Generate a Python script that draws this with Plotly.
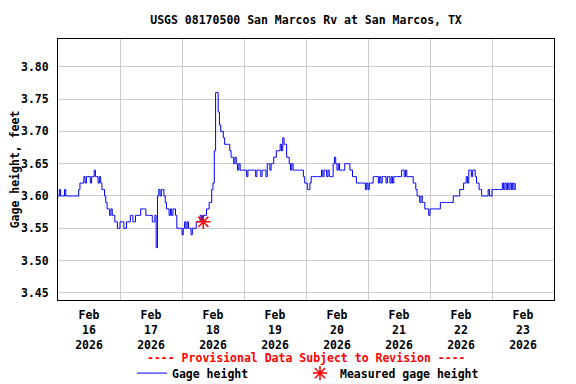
import pandas as pd
import plotly.graph_objects as go

# Gage height, feet, 30-minute readings, one list per day (Feb 16 .. Feb 23)
feb16 = [3.60, 3.61, 3.60, 3.60, 3.60, 3.61, 3.60, 3.60,
         3.60, 3.60, 3.60, 3.60, 3.60, 3.60, 3.60, 3.60,
         3.61, 3.62, 3.62, 3.62, 3.63, 3.62, 3.63, 3.63,
         3.63, 3.62, 3.63, 3.63, 3.64, 3.63, 3.63, 3.62,
         3.63, 3.62, 3.61, 3.61, 3.60, 3.59, 3.58, 3.58,
         3.57, 3.58, 3.57, 3.57, 3.56, 3.56, 3.55, 3.55]
feb17 = [3.56, 3.56, 3.56, 3.55, 3.55, 3.56, 3.56, 3.56,
         3.57, 3.57, 3.56, 3.56, 3.57, 3.57, 3.57, 3.57,
         3.58, 3.58, 3.58, 3.58, 3.57, 3.57, 3.57, 3.57,
         3.57, 3.56, 3.56, 3.57, 3.52, 3.60, 3.61, 3.60,
         3.61, 3.61, 3.60, 3.59, 3.58, 3.58, 3.57, 3.58,
         3.57, 3.58, 3.58, 3.57, 3.55, 3.55, 3.55, 3.55]
feb18 = [3.54, 3.55, 3.56, 3.55, 3.56, 3.55, 3.55, 3.54,
         3.55, 3.55, 3.55, 3.56, 3.56, 3.56, 3.57, 3.56,
         3.57, 3.57, 3.57, 3.58, 3.58, 3.59, 3.59, 3.61,
         3.62, 3.67, 3.76, 3.76, 3.73, 3.71, 3.70, 3.70,
         3.69, 3.68, 3.68, 3.68, 3.68, 3.67, 3.66, 3.66,
         3.65, 3.66, 3.65, 3.64, 3.65, 3.64, 3.64, 3.64]
feb19 = [3.64, 3.64, 3.63, 3.64, 3.64, 3.64, 3.64, 3.64,
         3.64, 3.63, 3.64, 3.64, 3.64, 3.63, 3.64, 3.64,
         3.64, 3.63, 3.65, 3.65, 3.64, 3.65, 3.65, 3.66,
         3.66, 3.67, 3.67, 3.67, 3.68, 3.67, 3.69, 3.68,
         3.68, 3.66, 3.66, 3.65, 3.64, 3.65, 3.64, 3.64,
         3.64, 3.64, 3.64, 3.64, 3.64, 3.64, 3.63, 3.62]
feb20 = [3.62, 3.61, 3.61, 3.62, 3.63, 3.63, 3.63, 3.63,
         3.63, 3.63, 3.63, 3.63, 3.64, 3.63, 3.64, 3.64,
         3.63, 3.64, 3.63, 3.63, 3.63, 3.65, 3.66, 3.65,
         3.64, 3.65, 3.64, 3.64, 3.64, 3.64, 3.65, 3.65,
         3.65, 3.65, 3.64, 3.64, 3.63, 3.63, 3.63, 3.62,
         3.62, 3.62, 3.62, 3.62, 3.62, 3.62, 3.61, 3.62]
feb21 = [3.61, 3.62, 3.62, 3.62, 3.63, 3.63, 3.63, 3.63,
         3.62, 3.63, 3.62, 3.63, 3.63, 3.63, 3.62, 3.63,
         3.63, 3.62, 3.63, 3.62, 3.63, 3.63, 3.63, 3.63,
         3.63, 3.63, 3.64, 3.64, 3.63, 3.64, 3.63, 3.63,
         3.63, 3.63, 3.63, 3.62, 3.62, 3.61, 3.60, 3.60,
         3.59, 3.60, 3.59, 3.59, 3.58, 3.58, 3.58, 3.57]
feb22 = [3.58, 3.58, 3.58, 3.58, 3.58, 3.58, 3.58, 3.58,
         3.59, 3.59, 3.59, 3.59, 3.59, 3.59, 3.59, 3.59,
         3.59, 3.59, 3.60, 3.60, 3.60, 3.60, 3.60, 3.61,
         3.61, 3.61, 3.62, 3.62, 3.63, 3.62, 3.64, 3.64,
         3.63, 3.64, 3.64, 3.63, 3.62, 3.62, 3.61, 3.61,
         3.60, 3.60, 3.60, 3.60, 3.60, 3.61, 3.60, 3.60]
feb23 = [3.61, 3.61, 3.61, 3.61, 3.61, 3.61, 3.61, 3.61,
         3.62, 3.61, 3.62, 3.61, 3.62, 3.61, 3.62, 3.61,
         3.62, 3.61, 3.62]

measured_times = ["2026-02-18 08:15"]
measured_values = [3.56]

days = ["16", "17", "18", "19", "20", "21", "22", "23"]
y_ticks = [3.45, 3.50, 3.55, 3.60, 3.65, 3.70, 3.75, 3.80]

gage = feb16 + feb17 + feb18 + feb19 + feb20 + feb21 + feb22 + feb23
times = pd.date_range("2026-02-16 00:00", periods=len(gage), freq="30min")

tick_vals = [pd.Timestamp(f"2026-02-{d} 12:00") for d in days]
tick_text = [f"Feb<br>{d}<br>2026" for d in days]

FONT = "DejaVu Sans Mono"
FS = 11.5
W, H = 568, 376  # page body adds an 8px offset
LEG_FONT = dict(family=FONT, size=FS, color="black", weight="bold")

fig = go.Figure()
fig.add_trace(go.Scatter(
    x=times, y=gage, mode="lines", name="Gage height",
    line=dict(color="#0000ff", width=1, shape="hv"),
    legend="legend",
))
fig.add_trace(go.Scatter(
    x=pd.to_datetime(measured_times), y=measured_values, mode="markers",
    name="Measured gage height",
    marker=dict(symbol="asterisk-open", size=12, color="#ff0000",
                line=dict(color="#ff0000", width=1.5)),
    legend="legend2",
))

fig.update_layout(
    width=W, height=H,
    margin=dict(l=50, r=22, t=31, b=84, autoexpand=False),
    paper_bgcolor="white", plot_bgcolor="white",
    font=dict(family=FONT, size=FS, color="black", weight="bold"),
    title=dict(text="USGS 08170500 San Marcos Rv at San Marcos, TX",
               x=0.5, xref="paper", y=1 - 12 / H, yref="container",
               xanchor="center", yanchor="middle",
               font=dict(family=FONT, size=FS, color="black", weight="bold")),
    showlegend=True,
    legend=dict(orientation="h", x=(132 - 58) / 496, xanchor="left",
                y=-0.28, yanchor="middle", yref="paper",
                itemwidth=30, font=LEG_FONT, bgcolor="rgba(0,0,0,0)"),
    legend2=dict(orientation="h", x=(300 - 58) / 496, xanchor="left",
                 y=-0.28, yanchor="middle", yref="paper",
                 itemwidth=30, font=LEG_FONT, bgcolor="rgba(0,0,0,0)"),
    annotations=[dict(
        text="---- Provisional Data Subject to Revision ----",
        x=0.5, xref="paper", y=(300 - 358) / 261, yref="paper",
        xanchor="center", yanchor="middle", showarrow=False,
        font=dict(family=FONT, size=FS, color="#ff0000", weight="bold"),
    )],
)

fig.update_xaxes(
    range=["2026-02-16 00:00", "2026-02-24 00:00"],
    tickmode="array", tickvals=tick_vals, ticktext=tick_text,
    showgrid=False, ticks="outside", ticklen=4, tickcolor="rgba(0,0,0,0)",
    minor=dict(tickmode="linear", tick0="2026-02-16", dtick=86400000,
               showgrid=True, gridcolor="#cccccc", gridwidth=1, ticks=""),
    showline=True, linecolor="black", linewidth=1, mirror=True,
    zeroline=False, automargin=False,
    tickfont=dict(family=FONT, size=FS, color="black", weight="bold"),
)
fig.update_yaxes(
    range=[3.439, 3.843],
    tickmode="array", tickvals=y_ticks, tickformat=".2f",
    showgrid=True, gridcolor="#cccccc", gridwidth=1,
    ticks="outside", ticklen=6, tickcolor="rgba(0,0,0,0)",
    showline=True, linecolor="black", linewidth=1, mirror=True,
    zeroline=False, automargin=False,
    title=dict(text="Gage height, feet", standoff=2,
               font=dict(family=FONT, size=FS, color="black", weight="bold")),
    tickfont=dict(family=FONT, size=FS, color="black", weight="bold"),
)

fig.write_html("out.html")
